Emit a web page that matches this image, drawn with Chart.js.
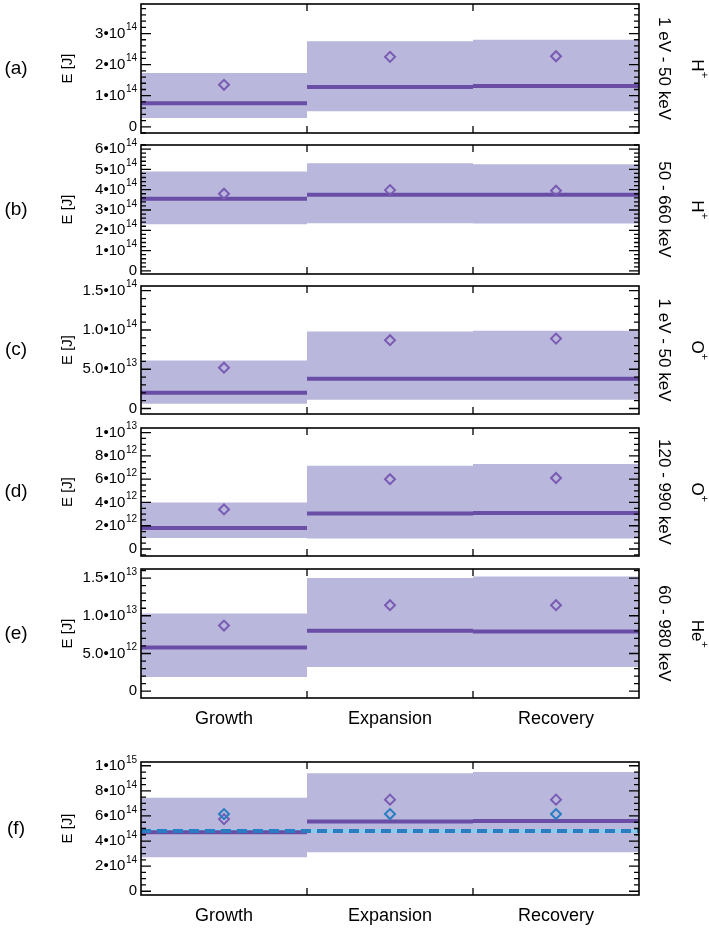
<!DOCTYPE html>
<html>
<head>
<meta charset="utf-8">
<script src="https://cdn.jsdelivr.net/npm/chart.js@4.4.1/dist/chart.umd.min.js"></script>
<style>
  body { margin: 0; background: #fff; }
  #wrap { position: relative; width: 709px; height: 930px; }
  #wrap canvas { position: absolute; left: 0; }
</style>
</head>
<body>
<div id="wrap"></div>
<script>
// categories and labels
const phases = ['Growth', 'Expansion', 'Recovery'];
const letters = ['(a)', '(b)', '(c)', '(d)', '(e)', '(f)'];
const energyRanges = ['1 eV - 50 keV', '50 - 660 keV', '1 eV - 50 keV', '120 - 990 keV', '60 - 980 keV', ''];
const ions = ['H', 'H', 'O', 'O', 'He', ''];

// (a) H+ 1 eV - 50 keV
const aLower = [0.28e14, 0.50e14, 0.50e14];
const aUpper = [1.73e14, 2.75e14, 2.80e14];
const aMedian = [0.76e14, 1.28e14, 1.31e14];
const aMean = [1.35e14, 2.25e14, 2.27e14];
// (b) H+ 50 - 660 keV
const bLower = [2.30e14, 2.35e14, 2.33e14];
const bUpper = [4.90e14, 5.30e14, 5.25e14];
const bMedian = [3.55e14, 3.75e14, 3.75e14];
const bMean = [3.80e14, 3.98e14, 3.95e14];
// (c) O+ 1 eV - 50 keV
const cLower = [0.06e14, 0.11e14, 0.11e14];
const cUpper = [0.61e14, 0.98e14, 0.99e14];
const cMedian = [0.20e14, 0.38e14, 0.38e14];
const cMean = [0.52e14, 0.87e14, 0.89e14];
// (d) O+ 120 - 990 keV
const dLower = [0.95e12, 0.90e12, 0.90e12];
const dUpper = [4.00e12, 7.15e12, 7.30e12];
const dMedian = [1.80e12, 3.05e12, 3.10e12];
const dMean = [3.40e12, 6.00e12, 6.10e12];
// (e) He+ 60 - 980 keV
const eLower = [0.19e13, 0.32e13, 0.32e13];
const eUpper = [1.03e13, 1.50e13, 1.52e13];
const eMedian = [0.58e13, 0.80e13, 0.79e13];
const eMean = [0.87e13, 1.14e13, 1.14e13];
// (f) total
const fLower = [2.70e14, 3.10e14, 3.10e14];
const fUpper = [7.45e14, 9.40e14, 9.50e14];
const fMedian = [4.70e14, 5.55e14, 5.60e14];
const fMean = [5.75e14, 7.30e14, 7.30e14];
const fMeanBlue = [6.15e14, 6.15e14, 6.15e14];
const fLevelBlue = 4.80e14;

// axes
const yMins = [-0.2e14, -0.15e14, -0.07e14, -0.06e13, -0.09e13, -0.3e14];
const yMaxs = [3.95e14, 6.2e14, 1.56e14, 1.04e13, 1.62e13, 1.03e15];
const majorSteps = [1e14, 1e14, 5e13, 2e12, 5e12, 2e14];
const minorSteps = [2e13, 2e13, 1e13, 5e11, 1e12, 5e13];
const labelDecimals = [0, 0, 1, 0, 1, 0];

const lowers = [aLower, bLower, cLower, dLower, eLower, fLower];
const uppers = [aUpper, bUpper, cUpper, dUpper, eUpper, fUpper];
const medians = [aMedian, bMedian, cMedian, dMedian, eMedian, fMedian];
const means = [aMean, bMean, cMean, dMean, eMean, fMean];

// page layout
const plotLeft = 141, plotRight = 639;
const panelTops = [3, 144, 285, 427, 568, 761];
const panelBottoms = [134, 275, 415, 557, 698, 895];

const BAND = '#b9b8dc';
const PURPLE = '#6a4ea6';
const DIAMOND = '#7a5bb3';
const BLUE = '#2a7dc0';
const LIGHTBLUE = '#8ccbea';
const FONT = '"Liberation Sans", Arial, sans-serif';

// band edges: step function over the three phases
function stepped(vals) {
  return [0, 1, 2, 3].map(i => ({ x: i, y: vals[Math.min(i, 2)] }));
}
// horizontal segments without vertical joins
function segments(vals) {
  const pts = [];
  vals.forEach((v, i) => {
    if (i > 0) pts.push({ x: i, y: null });
    pts.push({ x: i, y: v }, { x: i + 1, y: v });
  });
  return pts;
}
function centres(vals) {
  return vals.map((v, i) => ({ x: i + 0.5, y: v }));
}

function drawLabel(ctx, v, dec, xr, yc) {
  if (Math.abs(v) < 1e-3) {
    ctx.font = '15px ' + FONT;
    ctx.textAlign = 'right';
    ctx.fillText('0', xr, yc);
    return;
  }
  const e = Math.floor(Math.log10(v) + 1e-9);
  const m = (v / Math.pow(10, e)).toFixed(dec);
  const base = m + '\u202210';
  ctx.font = '10px ' + FONT;
  const wSup = ctx.measureText(String(e)).width;
  ctx.textAlign = 'left';
  ctx.fillText(String(e), xr - wSup, yc - 6);
  ctx.font = '15px ' + FONT;
  ctx.textAlign = 'right';
  ctx.fillText(base, xr - wSup - 0.5, yc);
}

const framePlugin = {
  id: 'frame',
  afterDatasetsDraw(chart, args, o) {
    const { ctx, chartArea: a, scales: { x, y } } = chart;
    const p = o.panel;
    ctx.save();
    ctx.strokeStyle = '#000';
    ctx.fillStyle = '#000';
    ctx.lineWidth = 1.6;
    ctx.strokeRect(a.left, a.top, a.right - a.left, a.bottom - a.top);
    // y ticks, both sides, inward
    const ratio = Math.round(majorSteps[p] / minorSteps[p]);
    const k0 = Math.ceil(yMins[p] / minorSteps[p]);
    const k1 = Math.floor(yMaxs[p] / minorSteps[p]);
    ctx.lineWidth = 1.3;
    ctx.textBaseline = 'middle';
    for (let k = k0; k <= k1; k++) {
      const v = k * minorSteps[p];
      const py = y.getPixelForValue(v);
      const major = k % ratio === 0;
      const len = major ? 10 : 5;
      ctx.beginPath();
      ctx.moveTo(a.left, py); ctx.lineTo(a.left + len, py);
      ctx.moveTo(a.right, py); ctx.lineTo(a.right - len, py);
      ctx.stroke();
      if (major && k >= 0) drawLabel(ctx, v, labelDecimals[p], a.left - 4, py);
    }
    // x ticks at phase boundaries
    [1, 2].forEach(v => {
      const px = x.getPixelForValue(v);
      ctx.beginPath();
      ctx.moveTo(px, a.top); ctx.lineTo(px, a.top + 7);
      ctx.moveTo(px, a.bottom); ctx.lineTo(px, a.bottom - 7);
      ctx.stroke();
    });
    const cy = (a.top + a.bottom) / 2;
    // panel letter
    ctx.font = '19px ' + FONT;
    ctx.textAlign = 'center';
    ctx.fillText(letters[p], 16, cy);
    // y title
    ctx.save();
    ctx.translate(68, cy);
    ctx.rotate(-Math.PI / 2);
    ctx.font = '15px ' + FONT;
    ctx.fillText('E [J]', 0, 0);
    ctx.restore();
    // right side labels
    if (energyRanges[p]) {
      ctx.save();
      ctx.translate(664, cy);
      ctx.rotate(Math.PI / 2);
      ctx.font = '17px ' + FONT;
      ctx.textAlign = 'center';
      ctx.fillText(energyRanges[p], 0, 0);
      ctx.restore();
      ctx.save();
      ctx.translate(697, cy);
      ctx.rotate(Math.PI / 2);
      ctx.font = '17px ' + FONT;
      const w = ctx.measureText(ions[p]).width;
      ctx.textAlign = 'left';
      ctx.fillText(ions[p], -w / 2 - 3, 0);
      ctx.font = '11px ' + FONT;
      ctx.fillText('+', w / 2 - 3, -7);
      ctx.restore();
    }
    // phase names under (e) and (f)
    if (o.showPhases) {
      ctx.font = '18px ' + FONT;
      ctx.textAlign = 'center';
      ctx.textBaseline = 'middle';
      phases.forEach((name, i) => {
        ctx.fillText(name, x.getPixelForValue(i + 0.5), a.bottom + 21);
      });
    }
    ctx.restore();
  }
};

const wrap = document.getElementById('wrap');
letters.forEach((letter, p) => {
  const padTop = 6, padBottom = (p >= 4) ? 34 : 6;
  const h = panelBottoms[p] - panelTops[p] + padTop + padBottom;
  const cv = document.createElement('canvas');
  cv.width = 709; cv.height = h;
  cv.style.top = (panelTops[p] - padTop) + 'px';
  wrap.appendChild(cv);

  const datasets = [
    { data: stepped(lowers[p]), stepped: 'before', borderWidth: 0, pointRadius: 0, fill: false, order: 10 },
    { data: stepped(uppers[p]), stepped: 'before', borderWidth: 0, pointRadius: 0,
      fill: '-1', backgroundColor: BAND, order: 9 },
    { data: segments(medians[p]), borderColor: PURPLE, borderWidth: 4, borderCapStyle: 'butt',
      pointRadius: 0, fill: false, spanGaps: false, order: 6 },
    { data: centres(means[p]), showLine: false, pointStyle: 'rectRot', pointRadius: 5,
      pointBorderWidth: 2, pointBorderColor: DIAMOND, pointBackgroundColor: 'rgba(0,0,0,0)', order: 2 }
  ];
  if (p === 5) {
    const level = [fLevelBlue, fLevelBlue, fLevelBlue];
    datasets.push(
      { data: stepped(level), borderColor: LIGHTBLUE, borderWidth: 4, pointRadius: 0, fill: false, order: 7 },
      { data: stepped(level), borderColor: BLUE, borderWidth: 4, borderDash: [10, 6],
        pointRadius: 0, fill: false, order: 4 },
      { data: centres(fMeanBlue), showLine: false, pointStyle: 'rectRot', pointRadius: 5,
        pointBorderWidth: 2, pointBorderColor: BLUE, pointBackgroundColor: 'rgba(0,0,0,0)', order: 1 }
    );
  }

  new Chart(cv.getContext('2d'), {
    type: 'line',
    data: { datasets },
    options: {
      responsive: false,
      animation: false,
      devicePixelRatio: 1,
      layout: { padding: { left: plotLeft, right: 709 - plotRight, top: padTop, bottom: padBottom } },
      scales: {
        x: { type: 'linear', min: 0, max: 3, display: false },
        y: { type: 'linear', min: yMins[p], max: yMaxs[p], display: false }
      },
      plugins: {
        legend: { display: false },
        tooltip: { enabled: false },
        frame: { panel: p, showPhases: p >= 4 }
      }
    },
    plugins: [framePlugin]
  });
});
</script>
</body>
</html>
